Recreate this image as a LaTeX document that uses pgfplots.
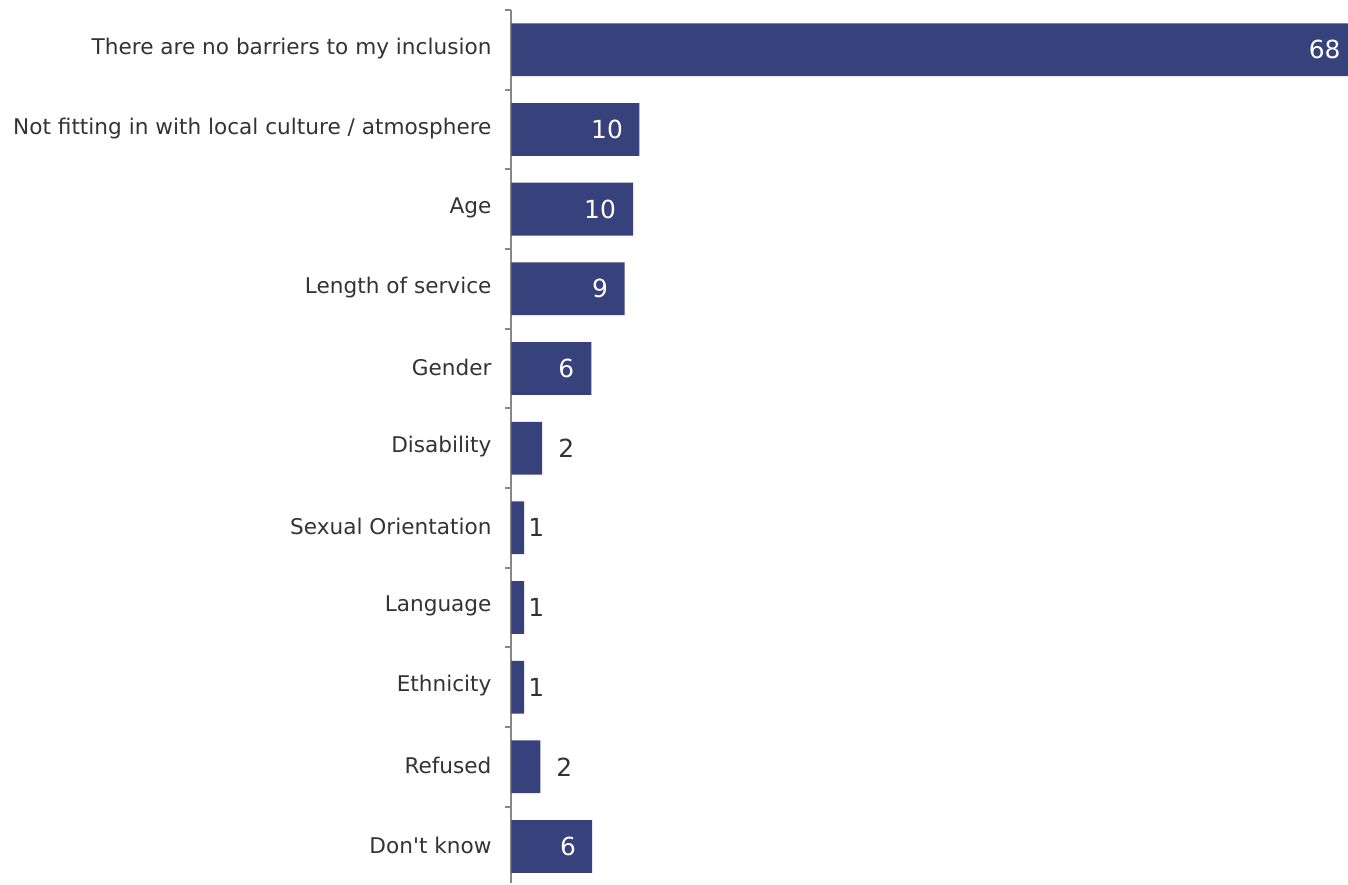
\documentclass[border={3.3pt 0pt 0pt 4.5pt}]{standalone}
\usepackage{pgfplots}
\pgfplotsset{compat=1.18}
\usepackage{pgfplotstable}
\usepackage{fontspec}
\setmainfont{DejaVu Sans}
\definecolor{barblue}{RGB}{55,65,123}
\definecolor{axgray}{RGB}{135,135,135}
\definecolor{txt}{RGB}{51,51,51}
\pgfplotstableread{
y  val
0  68
1  10.4
2  9.9
3  9.2
4  6.5
5  2.5
6  1.03
7  1.03
8  1.03
9  2.35
10 6.56
}\data
\pgfplotstableread{
y  lx    lab
0  66.1  68
1  7.77  10
2  7.2   10
3  7.2   9
4  4.45  6
10 4.61  6
}\inside
\pgfplotstableread{
y  lx    lab
5  4.45  2
6  2.02  1
7  2.02  1
8  2.02  1
9  4.29  2
}\outside
\begin{document}
\begin{tikzpicture}
\begin{axis}[
  name=ax,
  width=420pt, height=438.5pt,
  scale only axis,
  xmin=0, xmax=68,
  y dir=reverse,
  ymin=-0.5, ymax=10.4625,
  axis lines*=left,
  axis x line=none,
  axis line style={axgray, line width=1pt},
  ytick={0,...,10},
  yticklabels={There are no barriers to my inclusion,Not fitting in with local culture / atmosphere,Age,Length of service,Gender,Disability,Sexual Orientation,Language,Ethnicity,Refused,Don\textquotesingle t know},
  yticklabel style={font=\fontsize{10.85pt}{13pt}\selectfont, text=txt, xshift=-6.5pt, yshift=0.6pt},
  major tick length=0pt,
  minor ytick={-0.5,0.5,...,9.5},
  minor tick length=3pt,
  tick align=outside,
  minor tick style={axgray, line width=1pt},
  clip=false,
]
\addplot[xbar, bar width=26.5pt, bar shift=0pt, fill=barblue, draw=none] table[x=val, y=y] {\data};
\addplot[only marks, mark=none, nodes near coords, point meta=explicit symbolic,
  every node near coord/.append style={text=white, font=\fontsize{12.5pt}{14pt}\selectfont, anchor=center}]
  table[x=lx, y=y, meta=lab] {\inside};
\addplot[only marks, mark=none, nodes near coords, point meta=explicit symbolic,
  every node near coord/.append style={text=txt, font=\fontsize{12.5pt}{14pt}\selectfont, anchor=center}]
  table[x=lx, y=y, meta=lab] {\outside};
\end{axis}
\end{tikzpicture}
\end{document}
